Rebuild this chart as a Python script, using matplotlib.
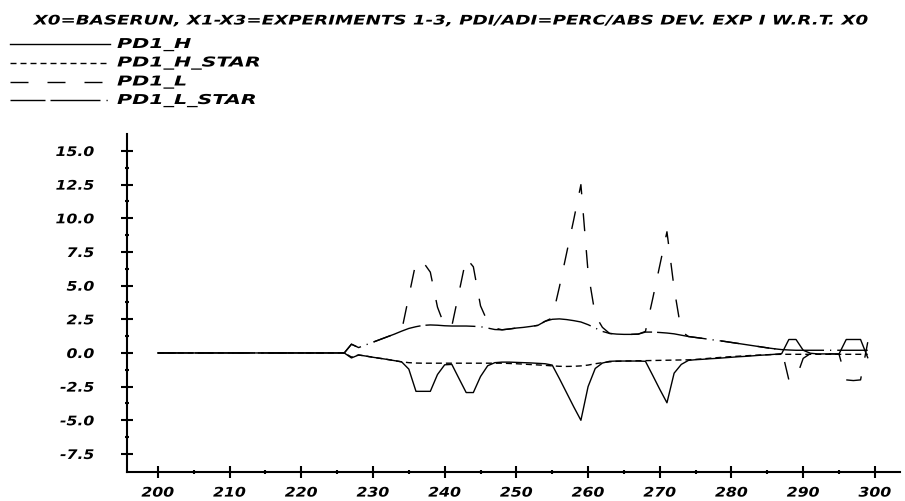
import matplotlib
matplotlib.use("Agg")
import matplotlib.pyplot as plt
from matplotlib.lines import Line2D
from matplotlib.patheffects import AbstractPathEffect
from matplotlib.transforms import Affine2D

# ---------------- data ----------------
years = [200] + list(range(225, 300))

pd1_h = [0.0,
         0.0, 0.0, -0.37, -0.15, -0.23, -0.32, -0.40, -0.48, -0.57, -0.66,   # 225-234
         -1.2, -2.85, -2.85, -2.85, -1.6, -0.88, -0.85, -1.9, -2.94, -2.94,   # 235-244
         -1.75, -0.95, -0.72, -0.68, -0.68, -0.70, -0.72, -0.74, -0.77, -0.80, # 245-254
         -0.90, -1.9, -2.95, -4.0, -5.0, -2.5, -1.15, -0.75, -0.62, -0.60,   # 255-264
         -0.60, -0.60, -0.60, -0.62, -1.65, -2.7, -3.7, -1.5, -0.85, -0.55,  # 265-274
         -0.50, -0.47, -0.43, -0.40, -0.36, -0.32, -0.28, -0.25, -0.21, -0.17, # 275-284
         -0.14, -0.10, -0.05, 1.0, 1.0, 0.2, -0.02, -0.07, -0.07, -0.07,     # 285-294
         -0.07, 1.0, 1.0, 1.0, -0.35]                                        # 295-299

pd1_h_star = [0.0,
              0.0, 0.0, -0.30, -0.15, -0.23, -0.32, -0.40, -0.48, -0.57, -0.66,
              -0.72, -0.75, -0.76, -0.76, -0.76, -0.76, -0.76, -0.76, -0.76, -0.76,
              -0.76, -0.76, -0.76, -0.76, -0.78, -0.80, -0.83, -0.86, -0.89, -0.92,
              -0.96, -0.99, -1.0, -0.99, -0.96, -0.90, -0.80, -0.72, -0.66, -0.62,
              -0.60, -0.59, -0.58, -0.57, -0.56, -0.55, -0.54, -0.53, -0.52, -0.51,
              -0.48, -0.44, -0.39, -0.35, -0.31, -0.27, -0.24, -0.21, -0.18, -0.15,
              -0.13, -0.11, -0.10, -0.10, -0.10, -0.10, -0.10, -0.10, -0.10, -0.10,
              -0.10, -0.10, -0.10, -0.10, -0.10]

pd1_l = [0.0,
         0.0, 0.0, 0.65, 0.4, 0.6, 0.8, 1.0, 1.2, 1.4, 1.65,
         4.2, 6.75, 6.75, 6.0, 3.4, 2.0, 2.0, 4.5, 7.05, 6.4,
         3.5, 2.3, 1.85, 1.72, 1.78, 1.85, 1.9, 1.97, 2.05, 2.35,
         2.6, 4.9, 7.4, 9.9, 12.5, 6.0, 2.8, 1.9, 1.45, 1.4,
         1.38, 1.38, 1.4, 1.6, 4.0, 6.5, 9.0, 4.8, 1.6, 1.22,
         1.15, 1.08, 1.0, 0.93, 0.86, 0.78, 0.70, 0.62, 0.54, 0.46,
         0.38, 0.31, 0.25, -2.0, -1.9, -0.4, -0.05, -0.07, -0.07, -0.07,
         -0.10, -2.0, -2.05, -2.0, 0.8]

pd1_l_star = [0.0,
              0.0, 0.0, 0.65, 0.4, 0.6, 0.8, 1.0, 1.2, 1.4, 1.62,
              1.82, 1.95, 2.05, 2.08, 2.06, 2.02, 2.0, 2.0, 2.0, 1.98,
              1.95, 1.85, 1.74, 1.72, 1.78, 1.85, 1.9, 1.97, 2.05, 2.35,
              2.5, 2.53, 2.48, 2.4, 2.3, 2.1, 1.85, 1.6, 1.45, 1.4,
              1.38, 1.38, 1.4, 1.55, 1.55, 1.52, 1.48, 1.42, 1.32, 1.22,
              1.15, 1.08, 1.0, 0.93, 0.86, 0.78, 0.70, 0.62, 0.54, 0.46,
              0.38, 0.31, 0.25, 0.22, 0.2, 0.2, 0.2, 0.2, 0.2, 0.2,
              0.2, 0.2, 0.2, 0.2, 0.2]

series_names = ["PD1_H", "PD1_H_STAR", "PD1_L", "PD1_L_STAR"]
series_values = [pd1_h, pd1_h_star, pd1_l, pd1_l_star]

x_ticks = [200, 210, 220, 230, 240, 250, 260, 270, 280, 290, 300]
y_ticks = [-7.5, -5.0, -2.5, 0.0, 2.5, 5.0, 7.5, 10.0, 12.5, 15.0]

title = "X0=BASERUN, X1-X3=EXPERIMENTS 1-3, PDI/ADI=PERC/ABS DEV. EXP I W.R.T. X0"


# horizontal stretch of drawn text (the reference uses an extended face)
class Stretch(AbstractPathEffect):
    def __init__(self, sx, anchor="left"):
        super().__init__()
        self.sx = sx
        self.anchor = anchor

    def draw_path(self, renderer, gc, tpath, affine, rgbFace=None):
        ext = tpath.get_extents()
        if self.anchor == "center":
            cx = (ext.x0 + ext.x1) / 2
        elif self.anchor == "right":
            cx = ext.x1
        else:
            cx = 0.0
        t = Affine2D().translate(-cx, 0).scale(self.sx, 1).translate(cx, 0)
        renderer.draw_path(gc, tpath, t + affine, rgbFace)


# ---------------- style ----------------
plt.rcParams["lines.scale_dashes"] = False
PX = 0.72  # points per pixel at dpi 100
styles = [
    dict(linestyle="-"),
    dict(linestyle=(0, (6 * PX, 4 * PX))),
    dict(linestyle=(0, (18 * PX, 19 * PX))),
    dict(linestyle=(15 * PX, (50 * PX, 5 * PX, 50 * PX, 6 * PX, 1.2 * PX, 6 * PX))),
]
font = dict(family="DejaVu Sans", weight="bold", style="italic")
LW = 1.0

W, H = 905, 501
fig = plt.figure(figsize=(W / 100, H / 100), dpi=100)
ax_l, ax_r, ax_t, ax_b = 127, 900, 134, 472
ax = fig.add_axes([ax_l / W, 1 - ax_b / H, (ax_r - ax_l) / W, (ax_b - ax_t) / H])

for vals, st in zip(series_values, styles):
    ax.plot(years, vals, color="black", linewidth=LW, **st)

ax.set_xlim(195.7, 303.5)
ax.set_ylim(-8.84, 16.26)

for s in ("top", "right"):
    ax.spines[s].set_visible(False)
for s in ("left", "bottom"):
    ax.spines[s].set_linewidth(1.5)

ax.set_xticks(x_ticks)
ax.set_xticklabels([str(v) for v in x_ticks])
ax.set_xticks([v + 5 for v in x_ticks[:-1]], minor=True)
ax.set_yticks(y_ticks)
ax.set_yticklabels([f"{v:.1f}" for v in y_ticks])
ax.set_yticks([v + 1.25 for v in y_ticks[:-1]], minor=True)

ax.tick_params(axis="both", which="major", direction="inout", length=9, width=1.5)
ax.tick_params(axis="x", which="minor", direction="inout", length=2.5, width=1.5)
ax.tick_params(axis="y", which="minor", direction="inout", length=3.5, width=1.5)
ax.tick_params(axis="y", which="major", pad=19)
ax.tick_params(axis="x", which="major", pad=6)
xlabels = ax.get_xticklabels()
ylabels = ax.get_yticklabels()
for lab in xlabels + ylabels:
    lab.set_fontfamily("DejaVu Sans")
    lab.set_fontweight("bold")
    lab.set_fontstyle("italic")
    lab.set_fontsize(9.5)

ttl = fig.text(452 / W, 1 - 21 / H, title, ha="center", va="center", fontsize=9.5, **font)

# legend
rows = [44, 62.5, 81.5, 100]
leg_texts = []
for name, st, yy in zip(series_names, styles, rows):
    fig.add_artist(Line2D([10 / W, 110 / W], [1 - yy / H, 1 - yy / H],
                          color="black", linewidth=LW, transform=fig.transFigure, **st))
    leg_texts.append(fig.text(117 / W, 1 - yy / H, name, ha="left", va="center",
                              fontsize=9.8, **font))

# measure natural widths, then stretch to the reference's widths
fig.canvas.draw()
r = fig.canvas.get_renderer()
sx_title = 838 / ttl.get_window_extent(r).width
ttl.set_path_effects([Stretch(sx_title, "center")])
sx_leg = 140 / leg_texts[-1].get_window_extent(r).width
for t in leg_texts:
    t.set_path_effects([Stretch(sx_leg, "left")])
sx_tick = 33 / xlabels[0].get_window_extent(r).width
for lab in xlabels:
    lab.set_path_effects([Stretch(sx_tick, "center")])
for lab in ylabels:
    lab.set_path_effects([Stretch(sx_tick, "right")])

fig.savefig("out.png", dpi=100)
